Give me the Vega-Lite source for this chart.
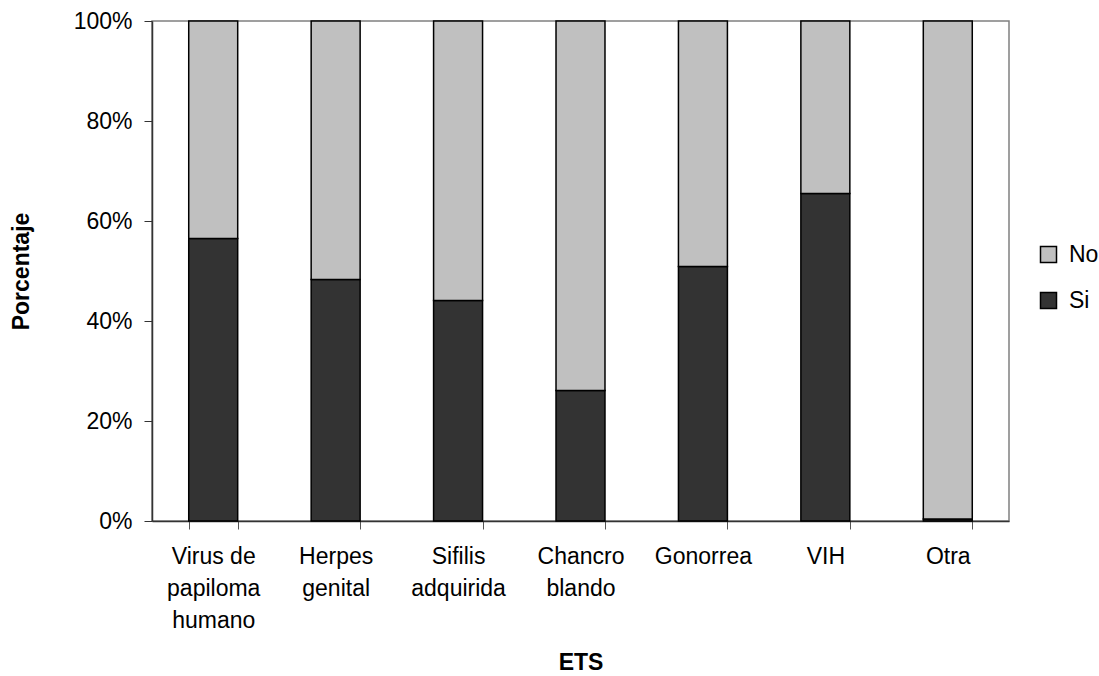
{
  "$schema": "https://vega.github.io/schema/vega-lite/v6.json",
  "width": 857,
  "height": 500,
  "autosize": {"type": "none"},
  "padding": {"left": 152, "top": 21, "right": 90, "bottom": 155},
  "config": {
    "font": "Liberation Sans",
    "view": {"stroke": "#808080", "strokeWidth": 1.5},
    "axis": {"labelFont": "Liberation Sans", "titleFont": "Liberation Sans", "labelColor": "#000", "titleColor": "#000", "grid": false},
    "legend": {"labelFont": "Liberation Sans"}
  },
  "data": {
    "values": [
      {"ets": "Virus de|papiloma|humano", "resp": "Si", "pct": 56.5, "ord": 1},
      {"ets": "Virus de|papiloma|humano", "resp": "No", "pct": 43.5, "ord": 2},
      {"ets": "Herpes|genital", "resp": "Si", "pct": 48.3, "ord": 1},
      {"ets": "Herpes|genital", "resp": "No", "pct": 51.7, "ord": 2},
      {"ets": "Sifilis|adquirida", "resp": "Si", "pct": 44.1, "ord": 1},
      {"ets": "Sifilis|adquirida", "resp": "No", "pct": 55.9, "ord": 2},
      {"ets": "Chancro|blando", "resp": "Si", "pct": 26.1, "ord": 1},
      {"ets": "Chancro|blando", "resp": "No", "pct": 73.9, "ord": 2},
      {"ets": "Gonorrea", "resp": "Si", "pct": 50.9, "ord": 1},
      {"ets": "Gonorrea", "resp": "No", "pct": 49.1, "ord": 2},
      {"ets": "VIH", "resp": "Si", "pct": 65.5, "ord": 1},
      {"ets": "VIH", "resp": "No", "pct": 34.5, "ord": 2},
      {"ets": "Otra", "resp": "Si", "pct": 0.4, "ord": 1},
      {"ets": "Otra", "resp": "No", "pct": 99.6, "ord": 2}
    ]
  },
  "mark": {"type": "bar", "stroke": "#000", "strokeWidth": 1.5},
  "encoding": {
    "x": {
      "field": "ets",
      "type": "nominal",
      "sort": null,
      "scale": {"paddingInner": 0.6, "paddingOuter": 0.3},
      "axis": {
        "title": "ETS",
        "titleFontSize": 23,
        "titleFontWeight": "bold",
        "titlePadding": 19,
        "labelAngle": 0,
        "labelFontSize": 23,
        "labelExpr": "split(datum.label, '|')",
        "labelLineHeight": 32,
        "labelPadding": 16,
        "labelBaseline": "top",
        "tickBand": "extent",
        "tickSize": 8,
        "tickColor": "#555",
        "domainColor": "#333",
        "domainWidth": 1.5
      }
    },
    "y": {
      "field": "pct",
      "type": "quantitative",
      "stack": "normalize",
      "scale": {"domain": [0, 1]},
      "axis": {
        "title": "Porcentaje",
        "titleFontSize": 23,
        "titleFontWeight": "bold",
        "titlePadding": 40,
        "values": [0, 0.2, 0.4, 0.6, 0.8, 1],
        "format": ".0%",
        "labelFontSize": 23,
        "labelPadding": 12,
        "tickSize": 8,
        "tickColor": "#333",
        "domainColor": "#333",
        "domainWidth": 1.5
      }
    },
    "color": {
      "field": "resp",
      "type": "nominal",
      "scale": {"domain": ["No", "Si"], "range": ["#c0c0c0", "#333333"]},
      "legend": {
        "title": null,
        "orient": "none",
        "legendX": 885,
        "legendY": 222,
        "padding": 0,
        "symbolType": "square",
        "symbolSize": 256,
        "symbolStrokeColor": "#000",
        "symbolStrokeWidth": 1.5,
        "labelFontSize": 23,
        "labelColor": "#000",
        "labelOffset": 9,
        "rowPadding": 22
      }
    },
    "order": {"field": "ord", "type": "quantitative"}
  }
}
